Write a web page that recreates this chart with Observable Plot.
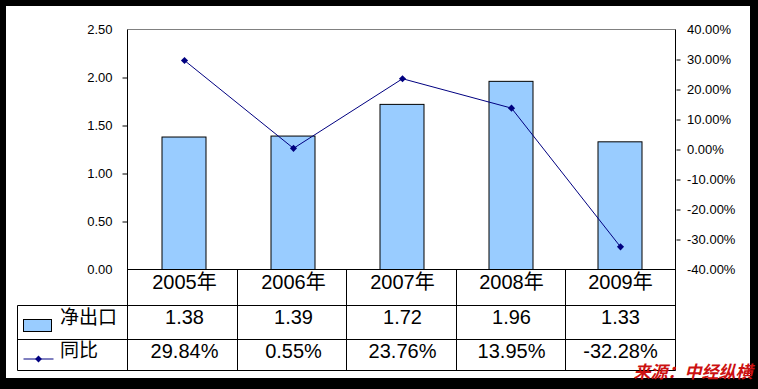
<!DOCTYPE html>
<html><head><meta charset="utf-8">
<script src="https://cdn.jsdelivr.net/npm/d3@7"></script>
<script src="https://cdn.jsdelivr.net/npm/@observablehq/plot@0.6"></script>
<style>
html,body{margin:0;padding:0;background:#000;}
#wrap{position:relative;width:758px;height:389px;background:#000;overflow:hidden;}
#paper{position:absolute;left:6px;top:6px;width:744px;height:372px;background:#fff;}
#chart{position:absolute;left:0;top:0;}
</style></head><body>
<div id="wrap"><div id="paper"></div><div id="chart"></div></div>
<script>
const years = ["2005年","2006年","2007年","2008年","2009年"];
const netExport = [1.38, 1.39, 1.72, 1.96, 1.33];
const yoy = [29.84, 0.55, 23.76, 13.95, -32.28];
const leftTicks = [0, 0.5, 1, 1.5, 2, 2.5];
const rightTicks = [-40, -30, -20, -10, 0, 10, 20, 30, 40];
const seriesNames = ["净出口", "同比"];
const source = "来源：中经纵横";

const yMax = 2.5, pMin = -40, pMax = 40;
const toLeft = p => (p - pMin) / (pMax - pMin) * yMax;
const toRight = v => v / yMax * (pMax - pMin) + pMin;

const rows = years.map((year, i) => ({year, value: netExport[i], yoy: yoy[i], yoyY: toLeft(yoy[i])}));

const BAR = "#99CCFF", LINE = "#000080";
const FONT = "'Liberation Sans', Arial, 'Noto Sans CJK SC', sans-serif";
const CJK = "'Noto Sans CJK SC', sans-serif";

function tableGrid(...args) {
  const dims = args.find(a => a && typeof a === "object" && "marginLeft" in a && "width" in a);
  const {width, height, marginLeft, marginRight, marginTop, marginBottom} = dims;
  const L = marginLeft, R = width - marginRight, T = marginTop, B = height - marginBottom;
  const snap = v => Math.floor(v) + 0.5;
  const step = (R - L) / years.length;
  const TL = L - 110;
  const r1 = B + 36, r2 = B + 70, r3 = B + 101;
  const g = d3.create("svg:g").attr("fill", "none").attr("stroke-width", 1);
  const line = (x1, y1, x2, y2, c) => g.append("line").attr("x1", x1).attr("y1", y1).attr("x2", x2).attr("y2", y2).attr("stroke", c || "#000");
  line(L, T, R, T, "#808080");
  line(L, T, L, r3);
  line(R, T, R, r3);
  line(L, B, R, B);
  [r1, r2, r3].forEach(y => line(TL, y, R, y));
  line(TL, r1, TL, r3);
  for (let i = 1; i < years.length; i++) line(snap(L + i * step), B, snap(L + i * step), r3);
  // legend keys
  g.append("rect").attr("x", TL + 6).attr("y", B + 50).attr("width", 28).attr("height", 12)
    .attr("fill", BAR).attr("stroke", "#000");
  line(TL + 6, B + 89.5, TL + 36, B + 89.5, LINE);
  g.append("path").attr("d", d3.symbol(d3.symbolDiamond2, 30)())
    .attr("transform", `translate(${TL + 21},${B + 89.5})`).attr("fill", LINE);
  return g.node();
}

const chart = Plot.plot({
  width: 758, height: 389,
  marginLeft: 127.5, marginRight: 82.5, marginTop: 29.5, marginBottom: 119.5,
  x: {type: "band", domain: years, paddingInner: 0.6, paddingOuter: 0.3, axis: null},
  y: {domain: [0, yMax]},
  style: {background: "transparent", fontFamily: FONT, fontSize: "13px", color: "#000", overflow: "visible"},
  marks: [
    Plot.barY(rows, {x: "year", y: "value", fill: BAR, stroke: "#000", strokeWidth: 1}),
    tableGrid,
    Plot.axisY({anchor: "left", ticks: leftTicks, tickSize: 0, tickPadding: 15.5, tickFormat: d => d.toFixed(2), label: null}),
    Plot.axisY({anchor: "left", ticks: leftTicks.slice(1, -1), tickSize: 5, tickFormat: () => "", label: null}),
    Plot.axisY({anchor: "right", ticks: rightTicks.map(toLeft), tickSize: 0, tickPadding: 11,
      tickFormat: v => (Math.round(toRight(v) * 100) / 100).toFixed(2) + "%", label: null}),
    Plot.axisY({anchor: "right", ticks: rightTicks.slice(1, -1).map(toLeft), tickSize: 4, tickFormat: () => "", label: null}),
    Plot.line(rows, {x: "year", y: "yoyY", stroke: LINE, strokeWidth: 1}),
    Plot.dot(rows, {x: "year", y: "yoyY", symbol: "diamond2", r: 3.2, fill: LINE}),
    Plot.text(rows, {x: "year", text: "year", frameAnchor: "bottom", dy: 18.5, fontSize: 20}),
    Plot.text(rows, {x: "year", text: d => d.value.toFixed(2), frameAnchor: "bottom", dy: 54.3, fontSize: 20}),
    Plot.text(rows, {x: "year", text: d => d.yoy.toFixed(2) + "%", frameAnchor: "bottom", dy: 87.5, fontSize: 20}),
    Plot.text([seriesNames[0]], {text: d => d, frameAnchor: "bottom-left", dx: -68, dy: 54, textAnchor: "start", fontSize: 19, fontFamily: CJK}),
    Plot.text([seriesNames[1]], {text: d => d, frameAnchor: "bottom-left", dx: -68, dy: 87, textAnchor: "start", fontSize: 19, fontFamily: CJK}),
    Plot.text([source], {text: d => d, frameAnchor: "bottom-right", dx: 76.5, dy: 107.5, textAnchor: "end",
      fill: "#cc1111", fontWeight: "bold", fontStyle: "italic", fontSize: 17, fontFamily: CJK})
  ]
});
document.getElementById("chart").appendChild(chart);
</script>
</body></html>
